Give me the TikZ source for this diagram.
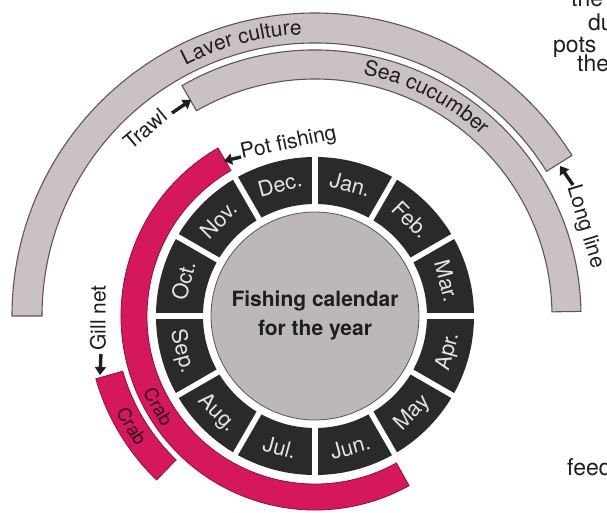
\documentclass[tikz,border=0pt]{standalone}
\usepackage{fontspec}
\setmainfont{TeX Gyre Heros}
\usetikzlibrary{arrows.meta,decorations.text}

\definecolor{strip}{HTML}{C9C1C2}
\definecolor{stripline}{HTML}{5E5557}
\definecolor{crab}{HTML}{D5175C}
\definecolor{crabline}{HTML}{8E1038}
\definecolor{monthfill}{HTML}{2B2A2B}
\definecolor{monthtext}{HTML}{E6E4E4}
\definecolor{hub}{HTML}{BCB7B8}
\definecolor{ink}{HTML}{1E1E1E}
\definecolor{crabink}{HTML}{2A1018}

\begin{document}
\begin{tikzpicture}[x=1pt,y=1pt,
  band/.style={fill=strip,draw=stripline,line width=1.1pt},
  crabband/.style={fill=crab,draw=crabline,line width=0.8pt},
  monthlabel/.style={text=monthtext,font=\fontsize{21.5}{21.5}\selectfont,
    inner sep=0pt,text height=15pt,text depth=0pt},
  crablabel/.style={text=crabink,font=\fontsize{18.5}{18.5}\selectfont,
    inner sep=0pt,text height=13pt,text depth=0pt},
  gearlabel/.style={text=ink,font=\fontsize{21}{21}\selectfont,inner sep=0pt},
  sidetext/.style={text=ink,font=\fontsize{23}{23}\selectfont,inner sep=0pt,anchor=base west},
  pointer/.style={draw=ink,line width=3.4pt,-{Triangle[length=8pt,width=11pt]}},
]
\useasboundingbox (-315,-196) rectangle (292,316);
\clip (-315,-196) rectangle (292,316);

% fishing seasons: laver culture / long line (outer) and trawl sea cucumber (inner)
\draw[band] (32:273pt) arc[start angle=32,end angle=180,radius=273pt]
  -- (180:303pt) arc[start angle=180,end angle=32,radius=303pt] -- cycle;
\draw[band] (1:237pt) arc[start angle=1,end angle=120,radius=237pt]
  -- (120:266pt) arc[start angle=120,end angle=1,radius=266pt] -- cycle;

% crab seasons: pot fishing and gill net
\draw[crabband] (120:168pt) arc[start angle=120,end angle=299,radius=168pt]
  -- (299:194pt) arc[start angle=299,end angle=120,radius=194pt] -- cycle;
\draw[crabband] (196:200pt) arc[start angle=196,end angle=226,radius=200pt]
  -- (226:228pt) arc[start angle=226,end angle=196,radius=228pt] -- cycle;

% month ring
\fill[monthfill,even odd rule] (0,0) circle[radius=159pt] (0,0) circle[radius=112pt];
\foreach \a in {0,30,...,330}
  \draw[white,line width=5.5pt] (\a:109pt) -- (\a:162pt);
\foreach \a/\r/\m [count=\i] in {75/-15/Jan.,45/-45/Feb.,15/-75/Mar.,
    -15/75/Apr.,-45/45/May,-75/15/Jun.,-105/-15/Jul.,-135/-45/Aug.,
    -165/-75/Sep.,165/75/Oct.,135/45/Nov.,105/15/Dec.}
  \node[monthlabel,rotate=\r] (month\i) at (\a:136pt) {\m};

% hub
\draw[fill=hub,draw=stripline,line width=0.8pt] (0,0) circle[radius=104pt];
\node[text=ink,font=\fontsize{21}{29}\selectfont\bfseries,align=center,inner sep=0pt]
  (title) at (0,1) {Fishing calendar\\for the year};

% curved band captions
\path[decorate,decoration={text along path,text align=center,
  text={|\fontsize{21}{21}\selectfont\color{ink}|Laver culture}}]
  (135:282pt) arc[start angle=135,end angle=75,radius=282pt];
\path[decorate,decoration={text along path,text align=center,
  text={|\fontsize{21}{21}\selectfont\color{ink}|Sea cucumber}}]
  (93:246pt) arc[start angle=93,end angle=33,radius=246pt];

% crab captions
\node[crablabel,rotate=-60] (crabpot) at (-150:181pt) {Crab};
\node[crablabel,rotate=-59] (crabnet) at (-149:214pt) {Crab};

% gear labels and pointers
\node[gearlabel,rotate=40] (trawl) at (-170,187) {Trawl};
\coordinate (trawltail) at (-143,203);
\coordinate (trawltip) at (-124,216);
\draw[pointer] (trawltail) -- (trawltip);

\node[gearlabel,rotate=12,anchor=base west] (pot) at (-73,157) {Pot fishing};
\coordinate (pottail) at (-74,159);
\coordinate (pottip) at (-91,155);
\draw[pointer] (pottail) -- (pottip);

\node[gearlabel,rotate=90] (gill) at (-217,-2) {Gill net};
\coordinate (gilltail) at (-214,-38);
\coordinate (gilltip) at (-215,-59);
\draw[pointer] (gilltail) -- (gilltip);

\node[gearlabel,rotate=-73] (longline) at (270,89) {Long line};
\coordinate (longtail) at (258,131);
\coordinate (longtip) at (245,150);
\draw[pointer] (longtail) -- (longtip);

% running text beside the chart
\node[sidetext] (side1) at (256,309) {the};
\node[sidetext] (side2) at (273,285) {du};
\node[sidetext] (side3) at (238,263.5) {pots};
\node[sidetext] (side4) at (262,244) {the};
\node[sidetext] (side5) at (252,-159) {feed};
\end{tikzpicture}
\end{document}
